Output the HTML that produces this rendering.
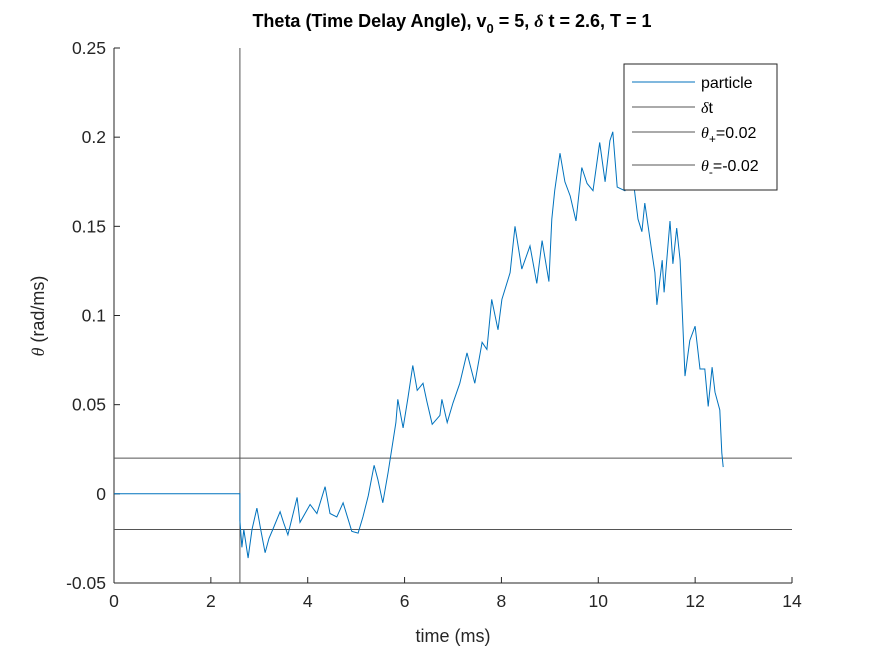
<!DOCTYPE html>
<html><head><meta charset="utf-8"><style>
body{margin:0;background:#fff;font-family:"Liberation Sans",sans-serif}
svg text{font-family:"Liberation Sans",sans-serif;fill:#262626}
</style></head><body>
<svg id="chart" width="875" height="656" viewBox="0 0 875 656" xmlns="http://www.w3.org/2000/svg">
<rect width="875" height="656" fill="#fff"/>
<g id="axes"></g>
<g id="series"></g>
<text x="452" y="27" text-anchor="middle" font-size="18" font-weight="bold" style="fill:#000">Theta (Time Delay Angle), v<tspan font-size="13" dy="6">0</tspan><tspan dy="-6"> = 5, </tspan><tspan font-family="Liberation Serif" font-style="italic">δ</tspan> t = 2.6, T = 1</text>
<text x="453" y="642" text-anchor="middle" font-size="18">time (ms)</text>
<text transform="translate(44,316) rotate(-90)" text-anchor="middle" font-size="18"><tspan font-family="Liberation Serif" font-style="italic">θ</tspan> (rad/ms)</text>
<g>
<rect x="624" y="64" width="153" height="126" fill="#fff" stroke="#262626" stroke-width="1"/>
<line x1="632" y1="82" x2="695" y2="82" stroke="#0072bd"/>
<text x="701" y="88" font-size="16" style="fill:#000">particle</text>
<line x1="632" y1="107" x2="695" y2="107" stroke="#555"/>
<text x="701" y="113" font-size="16" style="fill:#000"><tspan font-family="Liberation Serif" font-style="italic">δ</tspan>t</text>
<line x1="632" y1="132" x2="695" y2="132" stroke="#555"/>
<text x="701" y="138" font-size="16" style="fill:#000"><tspan font-family="Liberation Serif" font-style="italic">θ</tspan><tspan font-size="12" dy="5">+</tspan><tspan dy="-5">=0.02</tspan></text>
<line x1="632" y1="165" x2="695" y2="165" stroke="#555"/>
<text x="701" y="171" font-size="16" style="fill:#000"><tspan font-family="Liberation Serif" font-style="italic">θ</tspan><tspan font-size="12" dy="5">-</tspan><tspan dy="-5">=-0.02</tspan></text>
</g>
</svg>
<script>
const times=[0,2.6,2.6,2.64,2.68,2.77,2.85,2.95,3.03,3.12,3.2,3.28,3.43,3.5,3.59,3.78,3.84,4.05,4.19,4.36,4.46,4.6,4.73,4.91,5.04,5.14,5.25,5.37,5.45,5.55,5.66,5.74,5.82,5.86,5.97,6.07,6.17,6.26,6.38,6.46,6.57,6.73,6.77,6.88,7.0,7.14,7.29,7.45,7.6,7.7,7.8,7.93,8.01,8.18,8.28,8.42,8.59,8.73,8.84,8.98,9.04,9.1,9.21,9.31,9.42,9.54,9.66,9.77,9.89,10.03,10.14,10.24,10.3,10.39,10.55,10.72,10.82,10.9,10.96,11.11,11.17,11.21,11.32,11.36,11.48,11.54,11.62,11.69,11.79,11.89,12.0,12.1,12.2,12.27,12.35,12.41,12.51,12.55,12.58];
const theta=[0,0,-0.015,-0.03,-0.02,-0.036,-0.02,-0.008,-0.02,-0.033,-0.025,-0.02,-0.01,-0.016,-0.023,-0.002,-0.016,-0.006,-0.011,0.004,-0.011,-0.013,-0.005,-0.021,-0.022,-0.013,-0.001,0.016,0.008,-0.005,0.012,0.026,0.04,0.053,0.037,0.054,0.072,0.058,0.062,0.052,0.039,0.044,0.053,0.04,0.051,0.062,0.079,0.062,0.085,0.081,0.109,0.092,0.109,0.124,0.15,0.126,0.139,0.118,0.142,0.119,0.154,0.17,0.191,0.175,0.167,0.153,0.183,0.174,0.17,0.197,0.175,0.198,0.203,0.172,0.17,0.176,0.154,0.147,0.163,0.135,0.124,0.106,0.131,0.113,0.153,0.129,0.149,0.131,0.066,0.086,0.094,0.07,0.07,0.049,0.071,0.057,0.047,0.023,0.015];
const xTicks=[0,2,4,6,8,10,12,14];
const yTicks=[-0.05,0,0.05,0.1,0.15,0.2,0.25];
const yTickLabels=["-0.05","0","0.05","0.1","0.15","0.2","0.25"];
const deltaT=2.6, thetaPlus=0.02, thetaMinus=-0.02;
const X0=114,X1=792,Y0=583,Y1=48,xMin=0,xMax=14,yMin=-0.05,yMax=0.25;
const sx=v=>X0+(v-xMin)/(xMax-xMin)*(X1-X0);
const sy=v=>Y0-(v-yMin)/(yMax-yMin)*(Y0-Y1);
const NS="http://www.w3.org/2000/svg";
const axes=document.getElementById('axes'), ser=document.getElementById('series');
function mk(tag,attrs,parent){const e=document.createElementNS(NS,tag);for(const k in attrs)e.setAttribute(k,attrs[k]);parent.appendChild(e);return e;}
let l=mk('line',{x1:X0,y1:Y0,x2:X1,y2:Y0,stroke:'#262626'},axes);


l=mk('line',{x1:X0,y1:Y0,x2:X0,y2:Y1,stroke:'#262626'},axes);


xTicks.forEach(t=>{const x=sx(t);mk('line',{x1:x,y1:Y0,x2:x,y2:Y0-6,stroke:'#262626'},axes);
const tx=mk('text',{x:x,y:Y0+24,'text-anchor':'middle','font-size':'17.5'},axes);tx.textContent=t;

});
yTicks.forEach((t,i)=>{const y=sy(t);mk('line',{x1:X0,y1:y,x2:X0+6,y2:y,stroke:'#262626'},axes);
const tx=mk('text',{x:X0-8,y:y+6,'text-anchor':'end','font-size':'17.5'},axes);tx.textContent=yTickLabels[i];

});
l=mk('line',{x1:sx(deltaT),y1:Y0,x2:sx(deltaT),y2:Y1,stroke:'#555'},ser);


l=mk('line',{x1:X0,y1:sy(thetaPlus),x2:X1,y2:sy(thetaPlus),stroke:'#555'},ser);


l=mk('line',{x1:X0,y1:sy(thetaMinus),x2:X1,y2:sy(thetaMinus),stroke:'#555'},ser);


const pts=times.map((t,i)=>sx(t).toFixed(1)+','+sy(theta[i]).toFixed(1)).join(' ');
const pl=mk('polyline',{points:pts,fill:'none',stroke:'#0072bd','stroke-width':'1'},ser);


</script>
</body></html>
